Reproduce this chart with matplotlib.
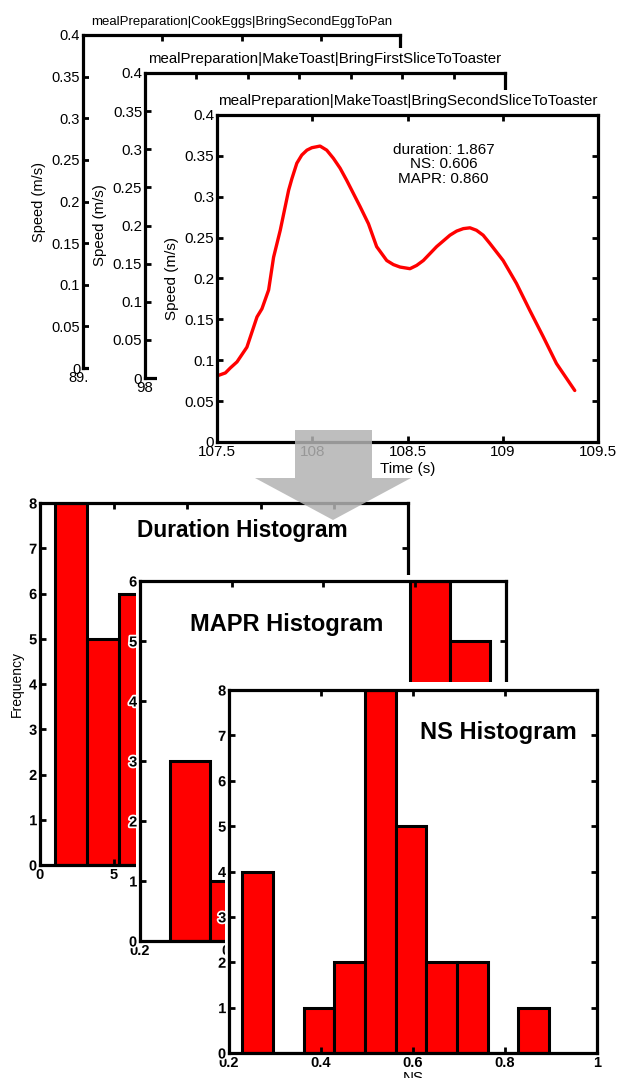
import matplotlib
matplotlib.use("Agg")
import matplotlib.pyplot as plt
import matplotlib.patheffects as pe
from matplotlib.patches import Rectangle, Polygon
from matplotlib.ticker import FuncFormatter

plt.rcParams["font.family"] = ["Liberation Sans", "DejaVu Sans"]

# --- data ---
seg_titles = ["mealPreparation|CookEggs|BringSecondEggToPan",
              "mealPreparation|MakeToast|BringFirstSliceToToaster",
              "mealPreparation|MakeToast|BringSecondSliceToToaster"]
seg_xlim = [(89.5, 91.5), (98.0, 99.4), (107.5, 109.5)]
seg_xstep = [0.5, 0.2, 0.5]

time_s = [107.509, 107.544, 107.570, 107.605, 107.657, 107.710, 107.736, 107.771,
          107.797, 107.832, 107.876, 107.893, 107.919, 107.945, 107.972, 107.998,
          108.041, 108.076, 108.111, 108.146, 108.181, 108.251, 108.295, 108.338,
          108.391, 108.426, 108.461, 108.487, 108.513, 108.548, 108.583, 108.653,
          108.723, 108.758, 108.793, 108.828, 108.862, 108.897, 108.932, 109.002,
          109.072, 109.142, 109.212, 109.282, 109.378]
speed = [0.0816, 0.0845, 0.0906, 0.098, 0.116, 0.153, 0.163, 0.186,
         0.226, 0.259, 0.308, 0.322, 0.341, 0.351, 0.357, 0.360,
         0.362, 0.357, 0.347, 0.335, 0.320, 0.288, 0.267, 0.239,
         0.222, 0.217, 0.214, 0.213, 0.212, 0.216, 0.222, 0.239,
         0.253, 0.258, 0.261, 0.262, 0.259, 0.253, 0.243, 0.222,
         0.194, 0.161, 0.129, 0.096, 0.063]
stats_text = "duration: 1.867\nNS: 0.606\nMAPR: 0.860"

dur_edges = [1.0, 3.2, 5.35, 7.5, 9.65, 11.8, 13.95, 16.1, 18.25, 20.4, 22.55]
dur_counts = [8, 5, 6, 3, 1, 1, 0, 0, 1, 0]
mapr_edges = [0.266, 0.353, 0.44, 0.528, 0.616, 0.703, 0.79, 0.878, 0.966]
mapr_counts = [3, 1, 2, 3, 3, 2, 6, 5]
ns_edges = [0.228, 0.295, 0.362, 0.428, 0.495, 0.562, 0.628, 0.695, 0.762, 0.828, 0.895]
ns_counts = [4, 0, 1, 2, 8, 5, 2, 2, 0, 1]

# --- layout in pixels (left, top, right, bottom) ---
W, H = 620, 1078
fig = plt.figure(figsize=(W / 100, H / 100), dpi=100)


def box(l, t, r, b):
    return [l / W, 1 - b / H, (r - l) / W, (b - t) / H]


def panel(l, t, r, b, z):
    fig.add_artist(Rectangle((l / W, 1 - b / H), (r - l) / W, (b - t) / H,
                             transform=fig.transFigure, facecolor="white",
                             edgecolor="none", zorder=z))


def style(ax, size=11, bold=False):
    for s in ax.spines.values():
        s.set_linewidth(2.3)
    ax.tick_params(direction="in", top=True, right=True, length=4, width=2,
                   labelsize=size, pad=2)
    ax.xaxis.set_major_formatter(FuncFormatter(lambda v, p: f"{v:g}"))
    ax.yaxis.set_major_formatter(FuncFormatter(lambda v, p: f"{v:g}"))
    if bold:
        for lab in ax.get_xticklabels() + ax.get_yticklabels():
            lab.set_fontweight("bold")


halo = [pe.withStroke(linewidth=2.5, foreground="white")]

# --- speed plots, stacked like pasted screenshots ---
speed_boxes = [(83, 35, 400, 368), (145, 73, 505, 378), (217, 115, 598, 442)]
speed_panels = [None, (89, 48, 620, 420), (157, 90, 620, 458)]
tick_fs = [10.5, 10.8, 11]
title_fs = [9.5, 10.8, 11]
z = 1
for i in range(3):
    if speed_panels[i]:
        panel(*speed_panels[i], z)
        z += 1
    ax = fig.add_axes(box(*speed_boxes[i]))
    ax.set_zorder(z)
    z += 1
    x0, x1 = seg_xlim[i]
    n = round((x1 - x0) / seg_xstep[i])
    ax.set_xlim(x0, x1)
    ax.set_xticks([x0 + k * seg_xstep[i] for k in range(n + 1)])
    ax.set_ylim(0, 0.4)
    ax.set_yticks([k * 0.05 for k in range(9)])
    style(ax, size=tick_fs[i])
    ax.set_title(seg_titles[i], fontsize=title_fs[i], pad=7)
    ax.set_ylabel("Speed (m/s)", fontsize=tick_fs[i], labelpad=4)
    if i == 2:
        ax.plot(time_s, speed, color="red", lw=2.4, solid_joinstyle="round",
                solid_capstyle="round")
        ax.text(0.595, 0.915, stats_text, transform=ax.transAxes, ha="center",
                va="top", fontsize=11, linespacing=1.05)
        ax.set_xlabel("Time (s)", fontsize=11, labelpad=2)


# --- histograms ---
def hist_axes(rect, edges, counts, xlim, xticks, ymax, z, title, tpos, tsize,
              ylabel=None, xlabel=None):
    ax = fig.add_axes(box(*rect))
    ax.set_zorder(z)
    widths = [edges[k + 1] - edges[k] for k in range(len(counts))]
    ax.bar(edges[:-1], counts, width=widths, align="edge", color="red",
           edgecolor="black", linewidth=2.2)
    ax.set_xlim(*xlim)
    ax.set_xticks(xticks)
    ax.set_ylim(0, ymax)
    ax.set_yticks(range(ymax + 1))
    style(ax, size=10.5, bold=True)
    for lab in ax.get_yticklabels():
        lab.set_path_effects(halo)
    if ylabel:
        ax.set_ylabel(ylabel, fontsize=10, labelpad=4)
    if xlabel:
        ax.set_xlabel(xlabel, fontsize=11, labelpad=1)
    ax.text(tpos[0], tpos[1], title, transform=ax.transAxes, ha="center",
            va="center", fontsize=tsize, fontweight="bold")
    return ax


hist_axes((40, 503, 408, 865), dur_edges, dur_counts, (0, 25), [0, 5, 10, 15, 20, 25],
          8, z, "Duration Histogram", (0.549, 0.925), 16.3, ylabel="Frequency")
z += 1
panel(136, 575, 620, 965, z)
z += 1
hist_axes((140, 581, 506, 941), mapr_edges, mapr_counts, (0.2, 1.0),
          [0.2, 0.4, 0.6, 0.8, 1.0], 6, z, "MAPR Histogram", (0.402, 0.878), 17)
z += 1
panel(225, 682, 620, 1078, z)
z += 1
hist_axes((229, 690, 597, 1053), ns_edges, ns_counts, (0.2, 1.0),
          [0.2, 0.4, 0.6, 0.8, 1.0], 8, z, "NS Histogram", (0.731, 0.884), 17,
          xlabel="NS")
z += 1

# --- grey arrow linking the speed plot to the histograms ---
arrow_px = [(295, 430), (372, 430), (372, 478), (411, 478), (333, 520),
            (255, 478), (295, 478)]
fig.add_artist(Polygon([(x / W, 1 - y / H) for x, y in arrow_px], closed=True,
                       transform=fig.transFigure, facecolor=(0.70, 0.70, 0.70),
                       edgecolor="none", alpha=0.85, zorder=z))

fig.savefig("out.png", dpi=100)
